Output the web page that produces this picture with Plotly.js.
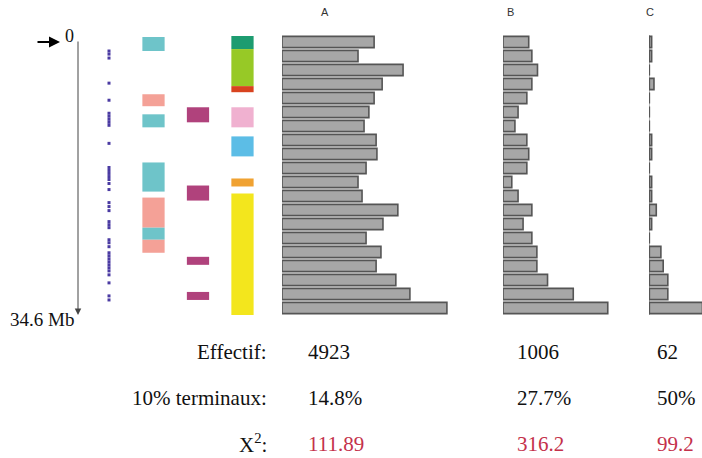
<!DOCTYPE html>
<html>
<head>
<meta charset="utf-8">
<script src="https://cdn.plot.ly/plotly-3.0.1.min.js"></script>
<style>html,body{margin:0;padding:0;background:#fff;}#chart{width:702px;height:458px;}</style>
</head>
<body>
<div id="chart"></div>
<script>
// ---- Data ----
const chromLength = 34.6; // Mb
const binLabels = ['1','2','3','4','5','6','7','8','9','10','11','12','13','14','15','16','17','18','19','20'];
const countsA = [229,189,301,249,229,216,204,234,236,209,189,199,288,251,209,246,234,283,318,410];
const countsB = [41,46,55,46,38,24,19,38,41,38,14,24,46,32,46,54,54,71,112,167];
const countsC = [1,1,0,2,0,0,0,1,1,0,1,1,3,1,0,5,6,8,8,23];
const groupNames = ['A','B','C'];
const effectif = ['4923','1006','62'];
const terminaux = ['14.8%','27.7%','50%'];
const chi2 = ['111.89','316.2','99.2'];

// positions (Mb) of small marks
const markPos = [1.98,2.36,2.85,5.95,8.06,9.67,10.04,10.42,10.79,11.16,13.39,16.37,16.74,17.11,17.49,17.86,18.35,19.10,20.71,21.20,21.70,23.06,23.44,23.81,25.30,25.67,26.16,26.91,27.28,27.66,28.03,28.40,28.77,29.15,29.64,30.63,32.24,32.74];

// coloured regions: column, start (Mb), end (Mb), colour
const regionCol   = [1,1,1,1,1,1,1, 2,2,2,2, 3,3,3,3,3,3,3];
const regionStart = [0.25,7.32,9.80,15.75,20.09,23.81,25.30, 8.93,18.60,27.41,31.75, 0.12,1.74,6.32,8.93,12.53,17.73,19.59];
const regionEnd   = [1.98,8.80,11.41,19.35,23.81,25.30,26.91, 10.79,20.46,28.40,32.74, 1.74,6.32,7.07,11.41,15.00,18.72,34.6];
const regionColor = ['#6ec4c9','#f4a197','#6ec4c9','#6ec4c9','#f4a197','#6ec4c9','#f4a197',
                     '#b0427c','#b0427c','#b0427c','#b0427c',
                     '#1d9c70','#97c926','#d8431f','#f0b1d0','#5cbde6','#f0a232','#f3e61d'];

// ---- Helpers ----
const W = 702, H = 458;
const px = x => x / W;
const py = y => 1 - y / H;
const binSize = chromLength / binLabels.length;
const binCenters = binLabels.map((_, i) => (i + 0.5) * binSize);

const barStyle = {color:'#a7a7a7', line:{color:'#555555', width:1.6}};
function histTrace(vals, xa){
  return {type:'bar', orientation:'h', x:vals, y:binCenters, width:binSize*0.8,
          xaxis:xa, yaxis:'y', marker:barStyle, hoverinfo:'skip'};
}

const traces = [
  {type:'bar', x:regionCol, y:regionEnd.map((e,i)=>e-regionStart[i]), base:regionStart,
   width:0.5, xaxis:'x', yaxis:'y', marker:{color:regionColor, line:{width:0}}, hoverinfo:'skip'},
  {type:'scatter', mode:'markers', x:markPos.map(()=>0), y:markPos, xaxis:'x', yaxis:'y',
   marker:{symbol:'square', size:3, color:'#4a3aa2', line:{width:0}}, hoverinfo:'skip'},
  histTrace(countsA,'x2'),
  histTrace(countsB,'x3'),
  histTrace(countsC,'x4')
];

const hidden = {showgrid:false, zeroline:false, showline:false, showticklabels:false, ticks:'', fixedrange:true};
const serif = "'Liberation Serif', 'Times New Roman', Times, serif";
const ann = [];
function txt(t, x, y, opts){
  ann.push(Object.assign({text:t, xref:'paper', yref:'paper', x:px(x), y:py(y), showarrow:false,
    xanchor:'left', yanchor:'middle', font:{family:serif, size:21, color:'#111'}}, opts||{}));
}
// group labels
const labelX = [325, 510, 650];
groupNames.forEach((g,i)=>txt(g, labelX[i], 12, {xanchor:'center', font:{family:"'Liberation Sans', Arial, sans-serif", size:11, color:'#333'}}));
// axis texts
txt('0', 63, 36, {font:{family:serif, size:18, color:'#111'}});
txt('34.6 Mb', 8, 319, {font:{family:serif, size:19, color:'#111'}});
// row labels
txt('Effectif:', 269, 352, {xanchor:'right'});
txt('10% terminaux:', 269, 398, {xanchor:'right'});
txt('X<sup>2</sup>:', 269, 443, {xanchor:'right'});
const colX = [306, 515, 655];
effectif.forEach((v,i)=>txt(v, colX[i], 352));
terminaux.forEach((v,i)=>txt(v, colX[i], 398));
chi2.forEach((v,i)=>txt(v, colX[i], 444, {font:{family:serif, size:21, color:'#c4314b'}}));
// arrows
ann.push({text:'', xref:'paper', yref:'paper', x:px(60), y:py(42), ax:-24, ay:0,
  showarrow:true, arrowhead:2, arrowsize:1, arrowwidth:2.2, arrowcolor:'#000'});
ann.push({text:'', xref:'paper', yref:'paper', x:px(78), y:py(315), ax:0, ay:-275,
  showarrow:true, arrowhead:2, arrowsize:1.3, arrowwidth:1, arrowcolor:'#444'});

const layout = {
  width:W, height:H, margin:{l:0,r:0,t:0,b:0}, paper_bgcolor:'#fff', plot_bgcolor:'rgba(0,0,0,0)',
  showlegend:false, barmode:'overlay', hovermode:false,
  font:{family:serif},
  yaxis:Object.assign({}, hidden, {range:[chromLength, 0], domain:[py(315), py(35)]}),
  xaxis:Object.assign({}, hidden, {range:[-0.427, 3.506], domain:[px(90), px(265)]}),
  xaxis2:Object.assign({}, hidden, {range:[0, 467.4], domain:[px(282), px(470)], anchor:'y'}),
  xaxis3:Object.assign({}, hidden, {range:[0, 186.5], domain:[px(503), px(620)], anchor:'y'}),
  xaxis4:Object.assign({}, hidden, {range:[-0.15, 22.8], domain:[px(649), 1], anchor:'y', zeroline:true, zerolinecolor:'#b5b5b5', zerolinewidth:1}),
  annotations:ann
};
Plotly.newPlot('chart', traces, layout, {staticPlot:true, displayModeBar:false});
</script>
</body>
</html>
